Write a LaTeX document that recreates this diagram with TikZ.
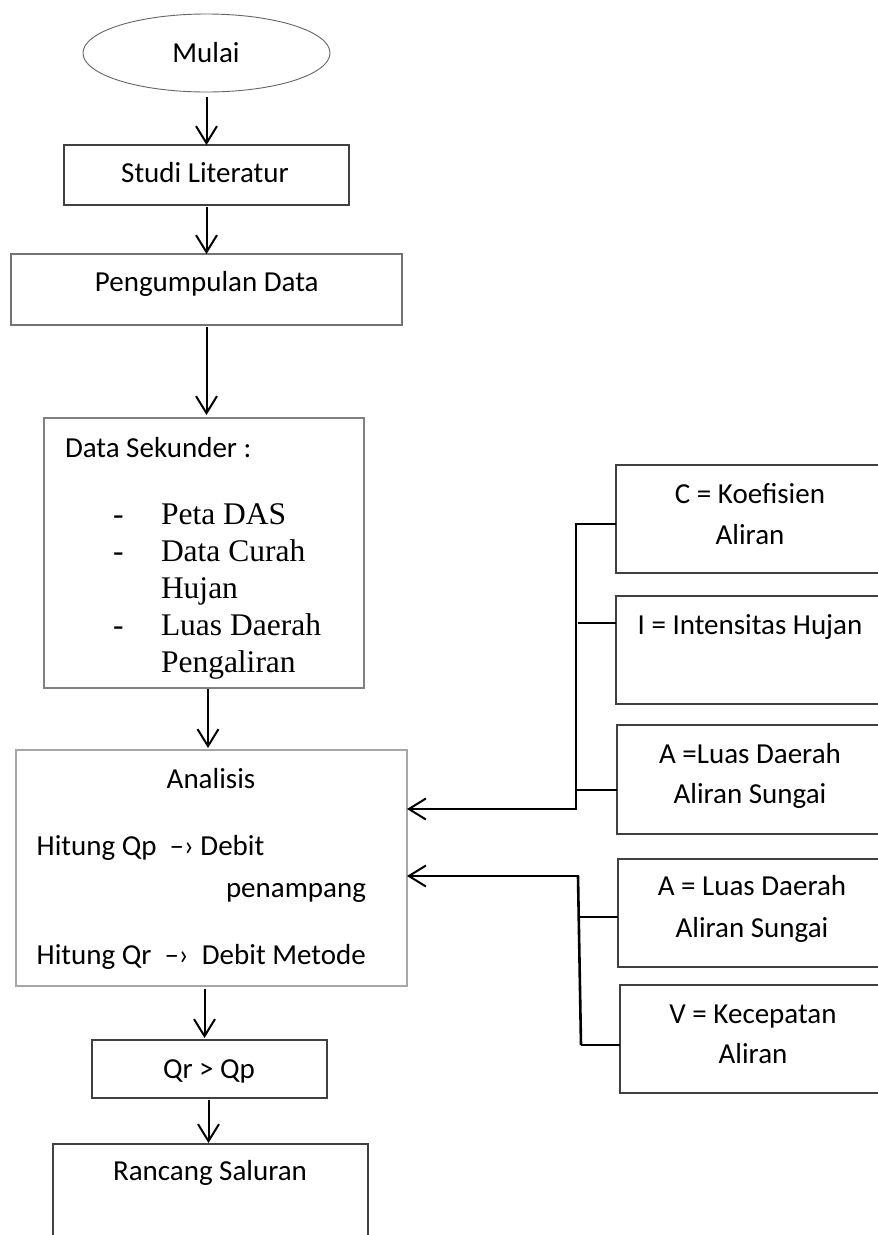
\documentclass[tikz,border=0pt]{standalone}
\usepackage{fontspec}
\setmainfont{Carlito}
\newfontfamily\tnr{Liberation Serif}
\usetikzlibrary{shapes.geometric,arrows.meta}
\begin{document}
\begin{tikzpicture}[x=1pt,y=-1pt,
  every node/.style={inner sep=0pt,outer sep=0pt},
  box/.style={draw=black!75,line width=1.1pt,rectangle},
  lbox/.style={draw=black!40,line width=1.1pt,rectangle},
  txt/.style={font=\fontsize{29}{40}\selectfont},
  ser/.style={font=\tnr\fontsize{31.5}{36.5}\selectfont},
  arr/.style={draw=black,line width=2pt,-{Straight Barb[length=17pt,width=21pt,line width=2pt]}},
  brk/.style={draw=black,line width=2.6pt}]
\clip (0,0) rectangle (878,1235);
\fill[white] (0,0) rectangle (878,1235);

% left column boxes
\node[ellipse,draw=black!60,line width=0.9pt,minimum width=247pt,minimum height=78pt] (mulai) at (206.5,53) {};
\node[box,minimum width=285pt,minimum height=60pt] (studi) at (206.5,175) {};
\node[lbox,draw=black!55,minimum width=391pt,minimum height=71pt] (kumpul) at (206.5,289.5) {};
\node[lbox,draw=black!50,minimum width=320pt,minimum height=270pt] (sek) at (204,553) {};
\node[lbox,draw=black!35,minimum width=391pt,minimum height=236pt] (anal) at (211.5,868) {};
\node[box,minimum width=235pt,minimum height=58pt] (qrqp) at (209.5,1069) {};
\node[box,minimum width=315pt,minimum height=156pt] (rancang) at (210.5,1222) {};

% right boxes
\node[box,minimum width=274pt,minimum height=108pt] (bc) at (753,519) {};
\node[box,minimum width=274pt,minimum height=108pt] (bi) at (753,650) {};
\node[box,minimum width=273pt,minimum height=109pt] (ba1) at (753.5,779.5) {};
\node[box,minimum width=272pt,minimum height=108pt] (ba2) at (754,913) {};
\node[box,minimum width=270pt,minimum height=108pt] (bv) at (755,1039) {};

% texts
\node[txt,anchor=base] (tmulai) at (206,62.7) {Mulai};
\node[txt,anchor=base] (tstudi) at (205,182.7) {Studi Literatur};
\node[txt,anchor=base] (tkumpul) at (206.8,291.7) {Pengumpulan Data};
\node[txt,anchor=base west] (tsek) at (65,457) {Data Sekunder :};
\node[ser,anchor=base west] (d1) at (113,524) {-};
\node[ser,anchor=base west] (s1) at (161,524) {Peta DAS};
\node[ser,anchor=base west] (d2) at (113,561.5) {-};
\node[ser,anchor=base west] (s2) at (161,561.5) {Data Curah};
\node[ser,anchor=base west] (s3) at (161,598) {Hujan};
\node[ser,anchor=base west] (d3) at (113,635) {-};
\node[ser,anchor=base west] (s4) at (161,635) {Luas Daerah};
\node[ser,anchor=base west] (s5) at (161,672) {Pengaliran};
\node[txt,anchor=base] (tanal) at (211,788) {Analisis};
\node[txt,anchor=base west] (h1) at (36.7,855.7) {Hitung Qp\ \ –› Debit};
\node[txt,anchor=base west] (h2) at (226,897) {penampang};
\node[txt,anchor=base west] (h3) at (36.7,964) {Hitung Qr\ \ –›\ \ Debit Metode};
\node[txt,anchor=base] (tqr) at (209,1078) {Qr > Qp};
\node[txt,anchor=base] (tranc) at (210,1180) {Rancang Saluran};

\node[txt,anchor=base,align=center] (tc1) at (750,503) {C = Koefisien};
\node[txt,anchor=base] (tc2) at (750,544) {Aliran};
\node[txt,anchor=base] (ti) at (750,634) {I = Intensitas Hujan};
\node[txt,anchor=base] (ta11) at (750,763) {A =Luas Daerah};
\node[txt,anchor=base] (ta12) at (750,803) {Aliran Sungai};
\node[txt,anchor=base] (ta21) at (752,895) {A = Luas Daerah};
\node[txt,anchor=base] (ta22) at (752,937) {Aliran Sungai};
\node[txt,anchor=base] (tv1) at (753,1023) {V = Kecepatan};
\node[txt,anchor=base] (tv2) at (753,1063) {Aliran};

% main flow arrows
\draw[arr,shorten <=5pt] (mulai.south) -- (studi.north);
\draw[arr,shorten <=2pt] (studi.south) -- (kumpul.north);
\draw[arr,shorten <=2pt,shorten >=3pt] (kumpul.south) -- (kumpul.south |- sek.north);
\draw[arr,shorten <=1pt,shorten >=2pt] ([xshift=4pt]sek.south) -- ([xshift=4pt]sek.south |- anal.north);
\draw[arr,shorten <=3pt,shorten >=2pt] ([xshift=-7pt]anal.south) -- ([xshift=-7pt]anal.south |- qrqp.north);
\draw[arr,shorten <=2pt,shorten >=1pt] ([xshift=-1pt]qrqp.south) -- ([xshift=-1pt]qrqp.south |- rancang.north);

% first bracket
\coordinate (b1t) at (576,524);
\coordinate (b1b) at (576,809);
\draw[brk] ([xshift=-1.3pt]b1t) -- (b1t -| bc.west) ;
\draw[brk] (576,524) -- (b1b);
\draw[brk] (578,623) -- (578,623 -| bi.west);
\draw[brk] (576,790) -- (576,790 -| ba1.west);
\draw[arr] ([xshift=1.3pt]b1b) -- (b1b -| anal.east);

% second bracket
\coordinate (b2t) at (578,876);
\coordinate (b2b) at (581,1045);
\draw[brk] (b2t) -- (b2b);
\draw[brk] (580,917) -- (580,917 -| ba2.west);
\draw[brk] (581,1045) -- (581,1045 -| bv.west);
\draw[arr] ([xshift=1.3pt]b2t) -- (b2t -| anal.east);
\end{tikzpicture}
\end{document}
